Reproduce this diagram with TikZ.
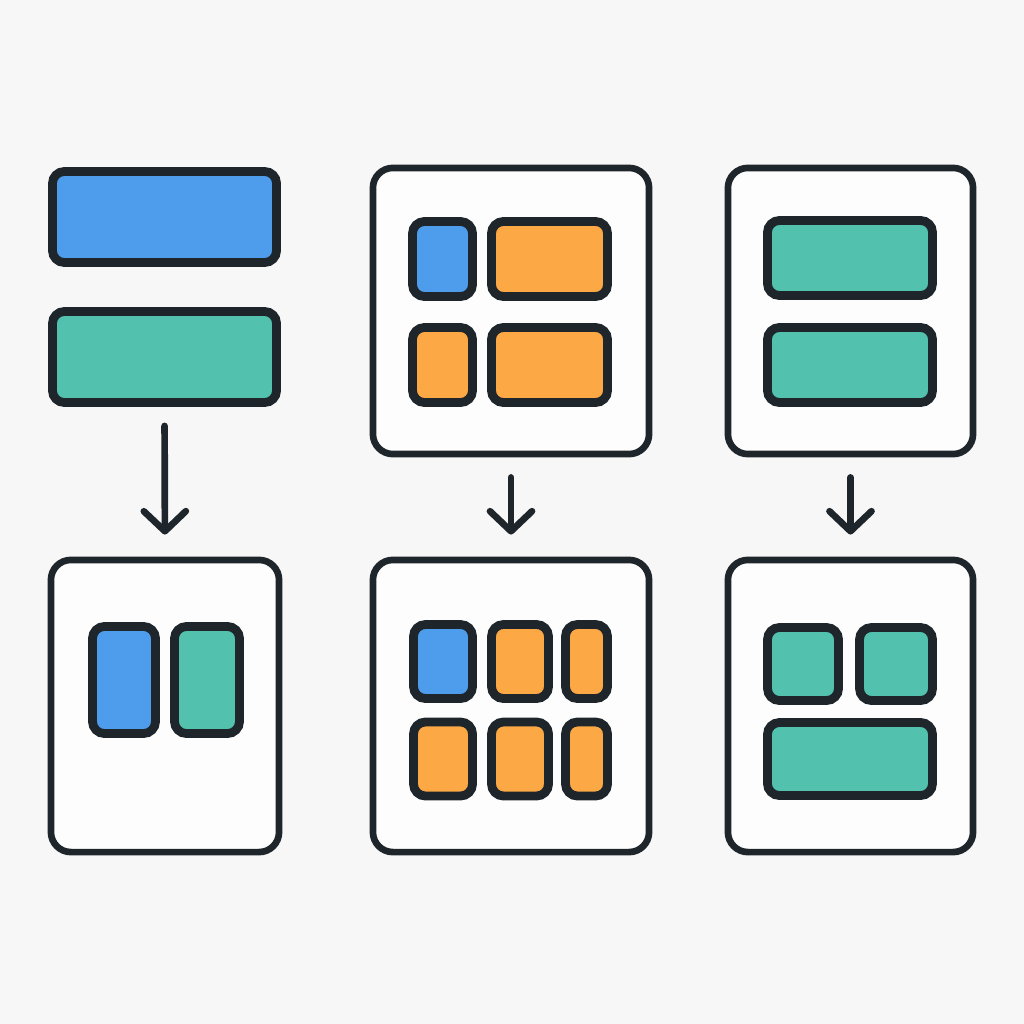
\documentclass[tikz,border=0pt]{standalone}
\usepackage[dvipsnames, svgnames]{xcolor}
\usepackage{tikz}
\usetikzlibrary{arrows.meta,positioning}

\definecolor{tileblue}{HTML}{4E9DEC}
\definecolor{tilegreen}{HTML}{52C1AE}
\definecolor{tileorange}{HTML}{FCA845}
\definecolor{ink}{HTML}{1E252B}
\definecolor{paper}{HTML}{F7F7F7}
\definecolor{card}{HTML}{FDFDFD}

\tikzset{
    panel/.style={draw=ink, fill=card, line width=1.9pt, rounded corners=0.2cm, inner sep=0pt},
    tile/.style={draw=ink, line width=2.5pt, rounded corners=0.12cm, inner sep=0pt},
    flow/.style={draw=ink, line width=1.9pt, line cap=round,
        -{Straight Barb[length=0.2cm, width=0.42cm, round]}}
}

\begin{document}
\begin{tikzpicture}[x=0.01cm, y=-0.01cm]
            \fill[paper] (0,0) rectangle (1024,1024);
            \useasboundingbox (0,0) rectangle (1024,1024);
            % left column
            \node[tile, fill=tileblue, minimum width=2.24cm, minimum height=0.91cm] (barblue) at (164.5,217) {};
            \node[tile, fill=tilegreen, minimum width=2.24cm, minimum height=0.91cm] (bargreen) at (164.5,357) {};
            \node[panel, minimum width=2.28cm, minimum height=2.92cm] (joinout) at (165,706) {};
            \node[tile, fill=tileblue, minimum width=0.63cm, minimum height=1.07cm] (joinblue) at (124,680) {};
            \node[tile, fill=tilegreen, minimum width=0.65cm, minimum height=1.07cm] (joingreen) at (207,680) {};
            % middle column
            \node[panel, minimum width=2.76cm, minimum height=2.86cm] (gridin) at (511,311) {};
            \node[tile, fill=tileblue, minimum width=0.60cm, minimum height=0.75cm] (gridina) at (442.5,259) {};
            \node[tile, fill=tileorange, minimum width=1.16cm, minimum height=0.75cm] (gridinb) at (549.5,259) {};
            \node[tile, fill=tileorange, minimum width=0.60cm, minimum height=0.75cm] (gridinc) at (442.5,365) {};
            \node[tile, fill=tileorange, minimum width=1.16cm, minimum height=0.75cm] (gridind) at (549.5,365) {};
            \node[panel, minimum width=2.76cm, minimum height=2.92cm] (gridout) at (511,706) {};
            \node[tile, fill=tileblue, minimum width=0.59cm, minimum height=0.74cm] (gridouta) at (443,661.5) {};
            \node[tile, fill=tileorange, minimum width=0.57cm, minimum height=0.74cm] (gridoutb) at (520,661.5) {};
            \node[tile, fill=tileorange, minimum width=0.42cm, minimum height=0.74cm] (gridoutc) at (586.5,661.5) {};
            \node[tile, fill=tileorange, minimum width=0.59cm, minimum height=0.74cm] (gridoutd) at (443,759) {};
            \node[tile, fill=tileorange, minimum width=0.57cm, minimum height=0.74cm] (gridoute) at (520,759) {};
            \node[tile, fill=tileorange, minimum width=0.42cm, minimum height=0.74cm] (gridoutf) at (586.5,759) {};
            % right column
            \node[panel, minimum width=2.45cm, minimum height=2.86cm] (splitin) at (850.5,311) {};
            \node[tile, fill=tilegreen, minimum width=1.65cm, minimum height=0.75cm] (splitina) at (850,258) {};
            \node[tile, fill=tilegreen, minimum width=1.65cm, minimum height=0.75cm] (splitinb) at (850,365) {};
            \node[panel, minimum width=2.45cm, minimum height=2.92cm] (splitout) at (850.5,706) {};
            \node[tile, fill=tilegreen, minimum width=0.71cm, minimum height=0.73cm] (splitouta) at (803,664) {};
            \node[tile, fill=tilegreen, minimum width=0.73cm, minimum height=0.73cm] (splitoutb) at (896,664) {};
            \node[tile, fill=tilegreen, minimum width=1.65cm, minimum height=0.73cm] (splitoutc) at (850,759) {};
            % arrows
            \draw[flow, shorten <=0.19cm, shorten >=0.22cm] (bargreen.south) -- (joinout.north);
            \draw[flow, shorten <=0.2cm, shorten >=0.22cm] (gridin.south) -- (gridout.north);
            \draw[flow, shorten <=0.2cm, shorten >=0.22cm] (splitin.south) -- (splitout.north);
        \end{tikzpicture}
\end{document}
